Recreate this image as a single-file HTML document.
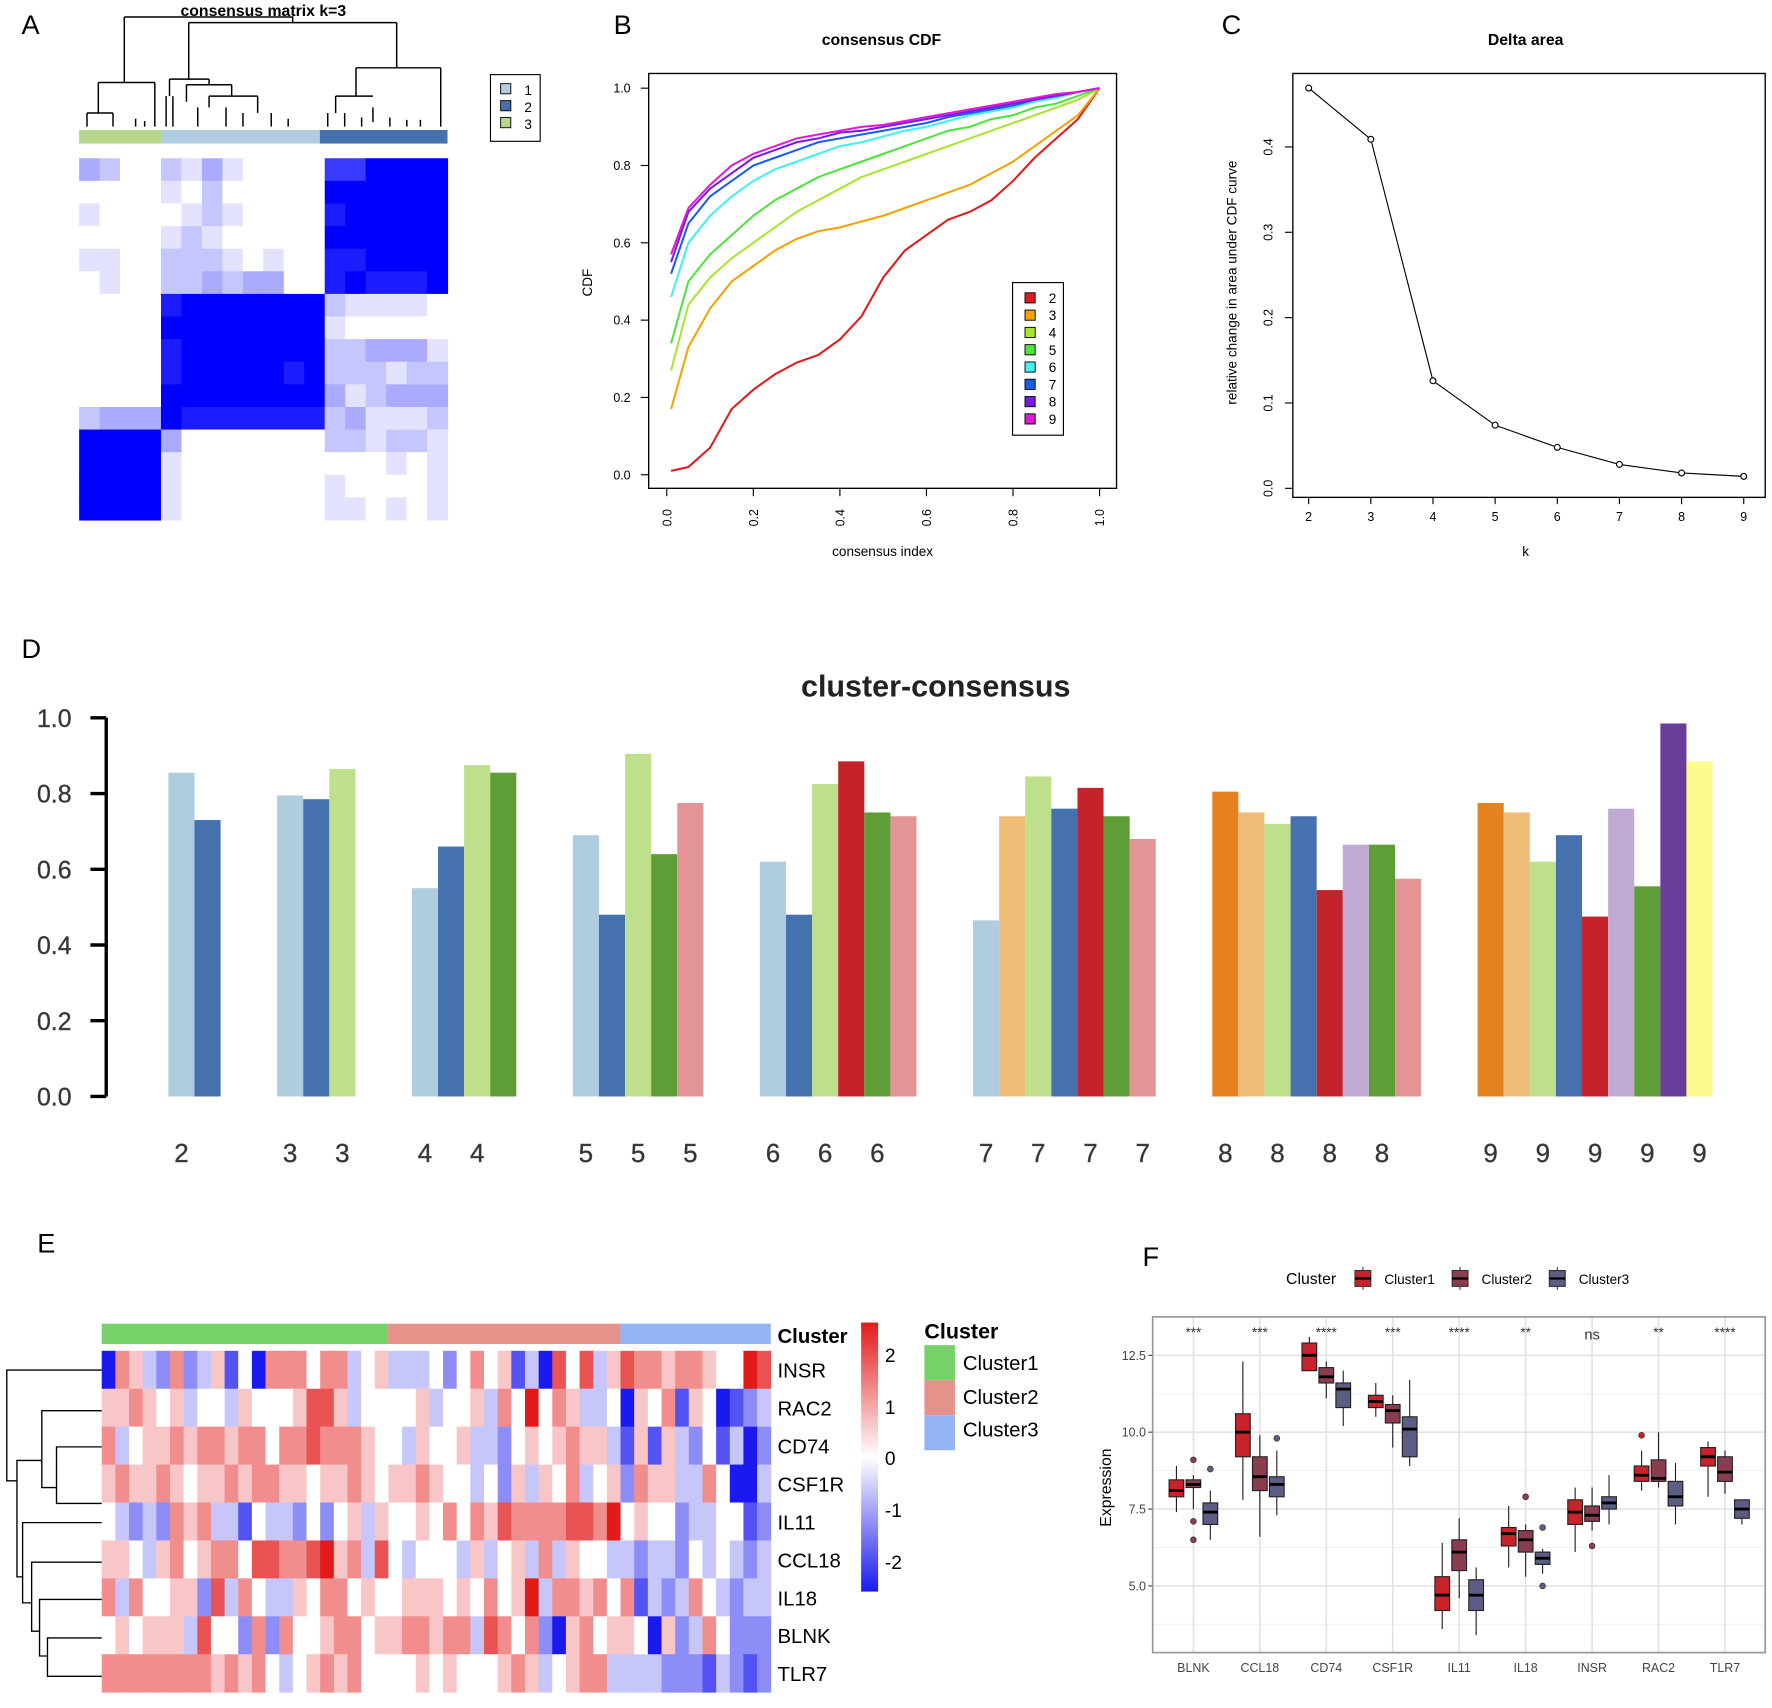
<!DOCTYPE html>
<html><head><meta charset="utf-8">
<style>
html,body{margin:0;padding:0;background:#fff;}
svg{display:block;font-family:"Liberation Sans",sans-serif;}
</style></head>
<body>
<svg id="fig" width="1772" height="1708" viewBox="0 0 1568 1511" preserveAspectRatio="none" xmlns="http://www.w3.org/2000/svg">
<rect x="0" y="0" width="1568" height="1511" fill="#fff"/>
<!-- Panel letters -->
<text x="19" y="30" font-size="24">A</text>
<text x="543" y="30" font-size="24">B</text>
<text x="1081" y="30" font-size="24">C</text>
<text x="19" y="582" font-size="24">D</text>
<text x="33" y="1108" font-size="24">E</text>
<text x="1011" y="1120" font-size="24">F</text>

<!-- Panel A -->
<g id="pa">
<text x="233" y="14" font-size="14" font-weight="bold" text-anchor="middle">consensus matrix k=3</text>
<path d="M110,15H259V20 M110,15V73 M167,20H351 M167,20V70 M351,20V60 M87,73H137 M87,73V100 M137,73V112 M150,70H185 M150,70V85 M185,70V75 M165,75H205 M165,75V90 M205,75V85 M185,85H228 M185,85V95 M228,85V100 M315,60H390 M315,60V85 M390,60V112 M297,85H330 M297,85V100 M330,95V108 M77,100H100 M77,100V112 M100,100V112 M147,85V112 M153,85V112 M175,95V112 M200,95V112 M215,100V112 M240,100V112 M255,105V112 M290,100V112 M305,100V112 M320,104V112 M345,104V112 M360,106V112 M372,106V112 M120,105V112 M128,107V112" stroke="#000" stroke-width="1.3" fill="none"/>
<rect x="70" y="115" width="73" height="12" fill="#b5d68b"/>
<rect x="143" y="115" width="140" height="12" fill="#b0cde0"/>
<rect x="283" y="115" width="113" height="12" fill="#4572af"/>
<g id="amat"></g>
<g>
<rect x="434" y="66" width="44" height="59" fill="#fff" stroke="#000" stroke-width="1"/>
<rect x="443" y="74" width="9" height="9" fill="#b0cde0" stroke="#000" stroke-width="0.8"/>
<rect x="443" y="89" width="9" height="9" fill="#4572af" stroke="#000" stroke-width="0.8"/>
<rect x="443" y="104" width="9" height="9" fill="#b5d68b" stroke="#000" stroke-width="0.8"/>
<text x="464" y="84" font-size="12">1</text>
<text x="464" y="99" font-size="12">2</text>
<text x="464" y="114" font-size="12">3</text>
</g>
</g>

<!-- Panel B -->
<g id="pb">
<text x="780" y="40" font-size="14" font-weight="bold" text-anchor="middle">consensus CDF</text>
<rect x="574" y="65" width="414" height="367" fill="none" stroke="#000" stroke-width="1.2"/>
<text x="781" y="492" font-size="12" text-anchor="middle">consensus index</text>
<text transform="translate(524,250) rotate(-90)" font-size="12" text-anchor="middle">CDF</text>
<g id="bcurves"></g>
<g id="baxes"></g>
<g id="blegend">
<rect x="896" y="250" width="45" height="135" fill="#fff" stroke="#000" stroke-width="1"/>
</g>
</g>

<!-- Panel C -->
<g id="pc">
<text x="1350" y="40" font-size="14" font-weight="bold" text-anchor="middle">Delta area</text>
<rect x="1144" y="65" width="418" height="375" fill="none" stroke="#000" stroke-width="1.2"/>
<text x="1350" y="492" font-size="12" text-anchor="middle">k</text>
<text transform="translate(1094,250) rotate(-90)" font-size="12" text-anchor="middle">relative change in area under CDF curve</text>
<g id="cplot"></g>
</g>

<!-- Panel D -->
<g id="pd">
<text x="828" y="616" font-size="27" font-weight="bold" fill="#222" text-anchor="middle">cluster-consensus</text>
<g id="dplot"></g>
</g>

<!-- Panel E -->
<g id="pe">
<rect x="90" y="1171" width="253" height="18" fill="#77d169"/>
<rect x="343" y="1171" width="206" height="18" fill="#e5928a"/>
<rect x="549" y="1171" width="133" height="18" fill="#92b4f3"/>
<text x="688" y="1188" font-size="18" font-weight="bold">Cluster</text>
<g id="eheat"></g>
<path d="M90,1212H6V1310H15 M15,1310V1292H37 M15,1310V1395H20 M37,1292V1248H90 M37,1292V1316H50 M50,1316V1280H90 M50,1316V1330H90 M20,1395V1347H90 M20,1395V1418H28 M28,1418V1382H90 M28,1418V1443H35 M35,1443V1415H90 M35,1443V1465H42 M42,1465V1449H90 M42,1465V1483H90" stroke="#000" stroke-width="1.2" fill="none"/>
<defs><linearGradient id="gkey" x1="0" y1="0" x2="0" y2="1">
<stop offset="0" stop-color="#e21a1a"/><stop offset="0.5" stop-color="#ffffff"/><stop offset="1" stop-color="#1a1af0"/></linearGradient></defs>
<rect x="762" y="1170" width="15" height="238" fill="url(#gkey)"/>
<g font-size="17">
<text x="783" y="1205">2</text><text x="783" y="1251">1</text><text x="783" y="1296">0</text><text x="783" y="1342">-1</text><text x="783" y="1388">-2</text>
</g>
<text x="818" y="1184" font-size="19" font-weight="bold">Cluster</text>
<rect x="818" y="1190" width="27" height="31" fill="#77d169"/>
<rect x="818" y="1221" width="27" height="31" fill="#e5928a"/>
<rect x="818" y="1252" width="27" height="31" fill="#92b4f3"/>
<text x="852" y="1212" font-size="18">Cluster1</text>
<text x="852" y="1242" font-size="18">Cluster2</text>
<text x="852" y="1271" font-size="18">Cluster3</text>
</g>

<!-- Panel F -->
<g id="pf">
<g>
<text x="1138" y="1136" font-size="14">Cluster</text>
<line x1="1206" y1="1121" x2="1206" y2="1141" stroke="#333"/><rect x="1199" y="1124" width="14" height="14" fill="#c8222b" stroke="#333"/><line x1="1199" y1="1131" x2="1213" y2="1131" stroke="#000" stroke-width="2"/>
<text x="1225" y="1136" font-size="12">Cluster1</text>
<line x1="1292" y1="1121" x2="1292" y2="1141" stroke="#333"/><rect x="1285" y="1124" width="14" height="14" fill="#8b3d50" stroke="#333"/><line x1="1285" y1="1131" x2="1299" y2="1131" stroke="#000" stroke-width="2"/>
<text x="1311" y="1136" font-size="12">Cluster2</text>
<line x1="1378" y1="1121" x2="1378" y2="1141" stroke="#333"/><rect x="1371" y="1124" width="14" height="14" fill="#5c5d85" stroke="#333"/><line x1="1371" y1="1131" x2="1385" y2="1131" stroke="#000" stroke-width="2"/>
<text x="1397" y="1136" font-size="12">Cluster3</text>
</g>
<text transform="translate(983,1316) rotate(-90)" font-size="14" text-anchor="middle">Expression</text>
<g id="fplot"></g>
</g>
</svg>

<script>
// ---------- Panel A data ----------
const aMatrixRows = [
"320021310000779999","000010200000999999","100001210000899999","000012100000999999",
"110022210100889999","010022323300898889","000089999999211110","000099999999100000",
"000089999999223331","000089999989222122","000099999999312333","233398888888231112",
"999930000000221221","999910000000000101","999910000000100001","999910000000110101"];

// ---------- Panel B data ----------
const cdfIndex = [0.01,0.05,0.1,0.15,0.2,0.25,0.3,0.35,0.4,0.45,0.5,0.55,0.6,0.65,0.7,0.75,0.8,0.85,0.9,0.95,1.0];
const cdfK = [2,3,4,5,6,7,8,9];
const cdfK2 = [0.01,0.02,0.07,0.17,0.22,0.26,0.29,0.31,0.35,0.41,0.51,0.58,0.62,0.66,0.68,0.71,0.76,0.82,0.87,0.92,1.0];
const cdfK3 = [0.17,0.33,0.43,0.50,0.54,0.58,0.61,0.63,0.64,0.655,0.67,0.69,0.71,0.73,0.75,0.78,0.81,0.85,0.89,0.93,1.0];
const cdfK4 = [0.27,0.44,0.51,0.56,0.60,0.64,0.68,0.71,0.74,0.77,0.79,0.81,0.83,0.85,0.87,0.89,0.91,0.93,0.95,0.97,1.0];
const cdfK5 = [0.34,0.50,0.57,0.62,0.67,0.71,0.74,0.77,0.79,0.81,0.83,0.85,0.87,0.89,0.90,0.92,0.93,0.95,0.96,0.98,1.0];
const cdfK6 = [0.46,0.60,0.67,0.72,0.76,0.79,0.81,0.83,0.85,0.86,0.875,0.89,0.90,0.915,0.93,0.94,0.95,0.965,0.975,0.99,1.0];
const cdfK7 = [0.52,0.65,0.72,0.76,0.80,0.82,0.84,0.86,0.87,0.88,0.89,0.90,0.91,0.925,0.935,0.945,0.955,0.97,0.98,0.99,1.0];
const cdfK8 = [0.55,0.68,0.74,0.78,0.82,0.84,0.86,0.87,0.885,0.89,0.90,0.91,0.92,0.93,0.94,0.95,0.96,0.97,0.98,0.99,1.0];
const cdfK9 = [0.57,0.69,0.75,0.80,0.83,0.85,0.87,0.88,0.89,0.90,0.905,0.915,0.925,0.935,0.945,0.955,0.965,0.975,0.985,0.99,1.0];
const cdfTicks = ["0.0","0.2","0.4","0.6","0.8","1.0"];

// ---------- Panel C data ----------
const deltaK = [2,3,4,5,6,7,8,9];
const deltaArea = [0.469,0.409,0.126,0.074,0.048,0.028,0.018,0.014];
const deltaYTicks = ["0.0","0.1","0.2","0.3","0.4"];

// ---------- Panel D data ----------
const groupK = [2,3,4,5,6,7,8,9];
const consensusValues = [
 [0.855,0.73],
 [0.795,0.785,0.865],
 [0.55,0.66,0.875,0.855],
 [0.69,0.48,0.905,0.64,0.775],
 [0.62,0.48,0.825,0.885,0.75,0.74],
 [0.465,0.74,0.845,0.76,0.815,0.74,0.68],
 [0.805,0.75,0.72,0.74,0.545,0.665,0.665,0.575],
 [0.775,0.75,0.62,0.69,0.475,0.76,0.555,0.985,0.885]];
const consensusColorIdx = [
 [0,1],[0,1,2],[0,1,2,3],[0,1,2,3,4],[0,1,2,5,3,4],[0,6,2,1,5,3,4],[7,6,2,1,5,8,3,4],[7,6,2,1,5,8,3,9,10]];
const consensusYTicks = ["0.0","0.2","0.4","0.6","0.8","1.0"];

// ---------- Panel E data ----------
const geneNames = ["INSR","RAC2","CD74","CSF1R","IL11","CCL18","IL18","BLNK","TLR7"];
const geneRows = [
"065326235140666466345"+"33342464513074735"+"76656654487",
"556545344354445775344"+"44534453648465334"+"05461540123",
"634556566566466766654"+"43544533245456553"+"15153241302",
"565565455656655455654"+"55654434253546345"+"26553364003",
"432326563314332424535"+"44546465766667768"+"45442334412",
"554356456647766785637"+"43444353453635443"+"32332434323",
"636445527364335466454"+"45554546458366564"+"61323643233",
"454555374426264456645"+"56656637646205645"+"54052364222",
"666666665656434565644"+"44545444565345663"+"33322213212"];

// ---------- Panel F data ----------
const boxGenes = ["BLNK","CCL18","CD74","CSF1R","IL11","IL18","INSR","RAC2","TLR7"];
const boxSig = ["***","***","****","***","****","**","ns","**","****"];
// [whiskerLow, q1, median, q3, whiskerHigh]
const cluster1Stats = [[7.4,7.9,8.1,8.45,8.9],[7.8,9.2,10.0,10.6,12.3],[12.0,12.0,12.5,12.9,13.1],[10.5,10.8,11.0,11.2,11.6],[3.6,4.2,4.7,5.3,6.4],[5.6,6.3,6.7,6.9,7.6],[6.1,7.0,7.4,7.8,8.2],[8.1,8.4,8.6,8.9,9.4],[7.9,8.9,9.2,9.5,9.7]];
const cluster2Stats = [[7.5,8.2,8.3,8.45,8.6],[6.6,8.1,8.55,9.2,9.9],[11.1,11.6,11.8,12.1,12.3],[9.5,10.3,10.7,10.9,11.2],[4.6,5.5,6.1,6.5,7.2],[5.3,6.1,6.5,6.8,7.0],[6.8,7.1,7.3,7.6,8.2],[8.2,8.4,8.5,9.1,10.0],[8.0,8.4,8.7,9.2,9.4]];
const cluster3Stats = [[6.5,7.0,7.4,7.7,8.1],[7.3,7.9,8.3,8.55,9.4],[10.2,10.8,11.4,11.6,12.0],[8.9,9.2,10.1,10.5,11.7],[3.4,4.2,4.7,5.2,5.6],[5.4,5.7,5.9,6.1,6.2],[7.0,7.5,7.7,7.9,8.6],[7.0,7.6,7.9,8.4,9.0],[7.0,7.2,7.5,7.8,7.8]];
const cluster1Out = [[],[],[],[],[],[],[],[9.9],[]];
const cluster2Out = [[9.1,7.1,6.5],[],[],[],[],[7.9],[6.3],[],[]];
const cluster3Out = [[8.8],[9.8],[],[],[],[6.9,5.0],[],[],[]];
const boxYTicks = [5.0,7.5,10.0,12.5];

const NS = "http://www.w3.org/2000/svg";
function mk(tag, attrs, parent){ const e=document.createElementNS(NS,tag); for(const k in attrs) e.setAttribute(k,attrs[k]); parent.appendChild(e); return e; }
function txt(s, attrs, parent){ const e=mk('text',attrs,parent); e.textContent=s; return e; }

// ===== Panel A =====
(function(){
  const g=document.getElementById('amat');
  const x0=70,x1=396,y0=140,y1=460;
  const nr=aMatrixRows.length, nc=aMatrixRows[0].length;
  const cw=(x1-x0)/nc, rh=(y1-y0)/nr;
  aMatrixRows.forEach((row,r)=>{
    for(let c=0;c<nc;c++){
      const v=+row[c]/9;
      const rr=Math.round(255*(1-v)), gg=Math.round(255*(1-v));
      const cell=mk('rect',{x:x0+c*cw,y:y0+r*rh,width:cw+0.5,height:rh+0.5,fill:`rgb(${rr},${gg},255)`},g);
      
      
    }
  });
})();

// ===== Panel B =====
(function(){
  const sx=v=>590+v*(973-590), sy=v=>420-v*(420-78);
  const series=[cdfK2,cdfK3,cdfK4,cdfK5,cdfK6,cdfK7,cdfK8,cdfK9];
  const cols=["#e31a1c","#f5a200","#a8e62e","#4ee33c","#41f0f0","#1a5cf0","#7a1ae6","#e01ad2"];
  const g=document.getElementById('bcurves');
  series.forEach((s,i)=>{
    const pts=s.map((v,j)=>sx(cdfIndex[j])+','+sy(v)).join(' ');
    const pl=mk('polyline',{points:pts,fill:'none',stroke:cols[i],'stroke-width':1.8},g);
    
    
  });
  const ax=document.getElementById('baxes');
  cdfTicks.forEach(t=>{
    const v=+t;
    mk('line',{x1:sx(v),x2:sx(v),y1:432,y2:439,stroke:'#000'},ax);
    const tx=txt(t,{transform:`translate(${sx(v)+4},458) rotate(-90)`,'font-size':11,'text-anchor':'middle'},ax);
    
    
    mk('line',{x1:567,x2:574,y1:sy(v),y2:sy(v),stroke:'#000'},ax);
    const ty=txt(t,{x:558,y:sy(v)+4,'font-size':11,'text-anchor':'end'},ax);
    
    
  });
  const lg=document.getElementById('blegend');
  cdfK.forEach((k,i)=>{
    const y=259+i*15.3;
    const r=mk('rect',{x:907,y:y,width:9,height:9,fill:cols[i],stroke:'#000','stroke-width':0.8},lg);
    
    
    const t=txt(String(k),{x:928,y:y+9,'font-size':12},lg);
    
    
  });
})();

// ===== Panel C =====
(function(){
  const g=document.getElementById('cplot');
  const sx=k=>1158+(k-2)*55, sy=v=>432-v*755;
  const pts=deltaArea.map((v,i)=>sx(deltaK[i])+','+sy(v)).join(' ');
  const pl=mk('polyline',{points:pts,fill:'none',stroke:'#000','stroke-width':1},g);
  
  
  deltaArea.forEach((v,i)=>{
    const c=mk('circle',{cx:sx(deltaK[i]),cy:sy(v),r:2.6,fill:'#fff',stroke:'#000','stroke-width':1},g);
    
    
  });
  deltaK.forEach(k=>{
    mk('line',{x1:sx(k),x2:sx(k),y1:440,y2:446,stroke:'#000'},g);
    const t=txt(String(k),{x:sx(k),y:461,'font-size':11,'text-anchor':'middle'},g);
    
    
  });
  deltaYTicks.forEach(s=>{
    const v=+s;
    mk('line',{x1:1137,x2:1144,y1:sy(v),y2:sy(v),stroke:'#000'},g);
    const t=txt(s,{transform:`translate(1126,${sy(v)}) rotate(-90)`,'font-size':11,'text-anchor':'middle'},g);
    
    
  });
})();

// ===== Panel D =====
(function(){
  const g=document.getElementById('dplot');
  const palette=["#b0cde0","#4572af","#bedf8c","#5f9e36","#e39494","#c4232b","#efbd78","#e6821e","#c0aad4","#6a3d9a","#fdfa90"];
  const sy=v=>970-v*335;
  const bw=23.1, gap=50, start=149;
  mk('line',{x1:94,x2:94,y1:sy(0),y2:sy(1),stroke:'#000','stroke-width':3},g);
  consensusYTicks.forEach(s=>{
    const v=+s;
    mk('line',{x1:80,x2:94,y1:sy(v),y2:sy(v),stroke:'#000','stroke-width':3},g);
    const t=txt(s,{x:48,y:sy(v)+8,'font-size':22,'text-anchor':'middle',fill:'#333',stroke:'#555','stroke-width':0.4},g);
    
    
  });
  let x=start;
  consensusValues.forEach((vals,gi)=>{
    vals.forEach((v,bi)=>{
      const r=mk('rect',{x:x,y:sy(v),width:bw,height:sy(0)-sy(v),fill:palette[consensusColorIdx[gi][bi]]},g);
      
      
      if(bi%2===0){
        const t=txt(String(groupK[gi]),{x:x+bw/2,y:1028,'font-size':23,'text-anchor':'middle',fill:'#333',stroke:'#555','stroke-width':0.4},g);
        
        
      }
      x+=bw;
    });
    x+=gap;
  });
})();

// ===== Panel E =====
(function(){
  const g=document.getElementById('eheat');
  const x0=90,x1=682,y0=1195,y1=1497;
  const rh=(y1-y0)/geneRows.length;
  function col(v){ // v in [-2,2]
    const t=Math.max(-1,Math.min(1,v/2));
    if(t>=0){ return `rgb(${Math.round(255-(255-226)*t)},${Math.round(255-(255-26)*t)},${Math.round(255-(255-26)*t)})`; }
    const u=-t; return `rgb(${Math.round(255-(255-26)*u)},${Math.round(255-(255-26)*u)},${Math.round(255-(255-240)*u)})`;
  }
  geneRows.forEach((row,r)=>{
    const n=row.length, cw=(x1-x0)/n;
    for(let c=0;c<n;c++){
      const v=(+row[c]-4)/2;
      const cell=mk('rect',{x:x0+c*cw,y:y0+r*rh,width:cw+0.4,height:rh+0.4,fill:col(v)},g);
      
      
    }
    const t=txt(geneNames[r],{x:688,y:y0+r*rh+rh/2+7,'font-size':18},g);
    
    
  });
})();

// ===== Panel F =====
(function(){
  const g=document.getElementById('fplot');
  const px0=1020,px1=1562,py0=1165,py1=1462;
  const sy=v=>1403-(v-5)*27.2;
  const sx=i=>1056+i*58.8;
  mk('rect',{x:px0,y:py0,width:px1-px0,height:py1-py0,fill:'#fff'},g);
  [3.75,6.25,8.75,11.25].forEach(v=>mk('line',{x1:px0,x2:px1,y1:sy(v),y2:sy(v),stroke:'#f2f2f2','stroke-width':1},g));
  boxYTicks.forEach(v=>{
    mk('line',{x1:px0,x2:px1,y1:sy(v),y2:sy(v),stroke:'#e3e3e3','stroke-width':1.5},g);
    mk('line',{x1:px0-4,x2:px0,y1:sy(v),y2:sy(v),stroke:'#444'},g);
    const t=txt(v.toFixed(1),{x:px0-6,y:sy(v)+4,'font-size':11,'text-anchor':'end',fill:'#444'},g);
    
    
  });
  boxGenes.forEach((gn,i)=>{
    mk('line',{x1:sx(i),x2:sx(i),y1:py0,y2:py1,stroke:'#e3e3e3','stroke-width':1.5},g);
  });
  mk('rect',{x:px0,y:py0,width:px1-px0,height:py1-py0,fill:'none',stroke:'#999','stroke-width':1.5},g);
  const sets=[[cluster1Stats,cluster1Out,'#c8222b',-15],[cluster2Stats,cluster2Out,'#8b3d50',0],[cluster3Stats,cluster3Out,'#5c5d85',15]];
  boxGenes.forEach((gn,i)=>{
    sets.forEach(([st,out,color,off],si)=>{
      const s=st[i], cx=sx(i)+off, w=13;
      mk('line',{x1:cx,x2:cx,y1:sy(s[0]),y2:sy(s[4]),stroke:'#222','stroke-width':1},g);
      const b=mk('rect',{x:cx-w/2,y:sy(s[3]),width:w,height:sy(s[1])-sy(s[3]),fill:color,stroke:'#222','stroke-width':1},g);
      
      
      mk('line',{x1:cx-w/2,x2:cx+w/2,y1:sy(s[2]),y2:sy(s[2]),stroke:'#000','stroke-width':2.5},g);
      out[i].forEach(o=>{
        const c=mk('circle',{cx:cx,cy:sy(o),r:2.6,fill:color,stroke:'#333','stroke-width':0.6},g);
        
        
      });
    });
    const sg=txt(boxSig[i],{x:sx(i),y:boxSig[i]==='ns'?1185:1183,'font-size':boxSig[i]==='ns'?13:12,'text-anchor':'middle',fill:'#333'},g);
    
    
    const t=txt(gn,{x:sx(i),y:1479,'font-size':11,'text-anchor':'middle',fill:'#444'},g);
    
    
  });
})();
</script>
</body></html>
